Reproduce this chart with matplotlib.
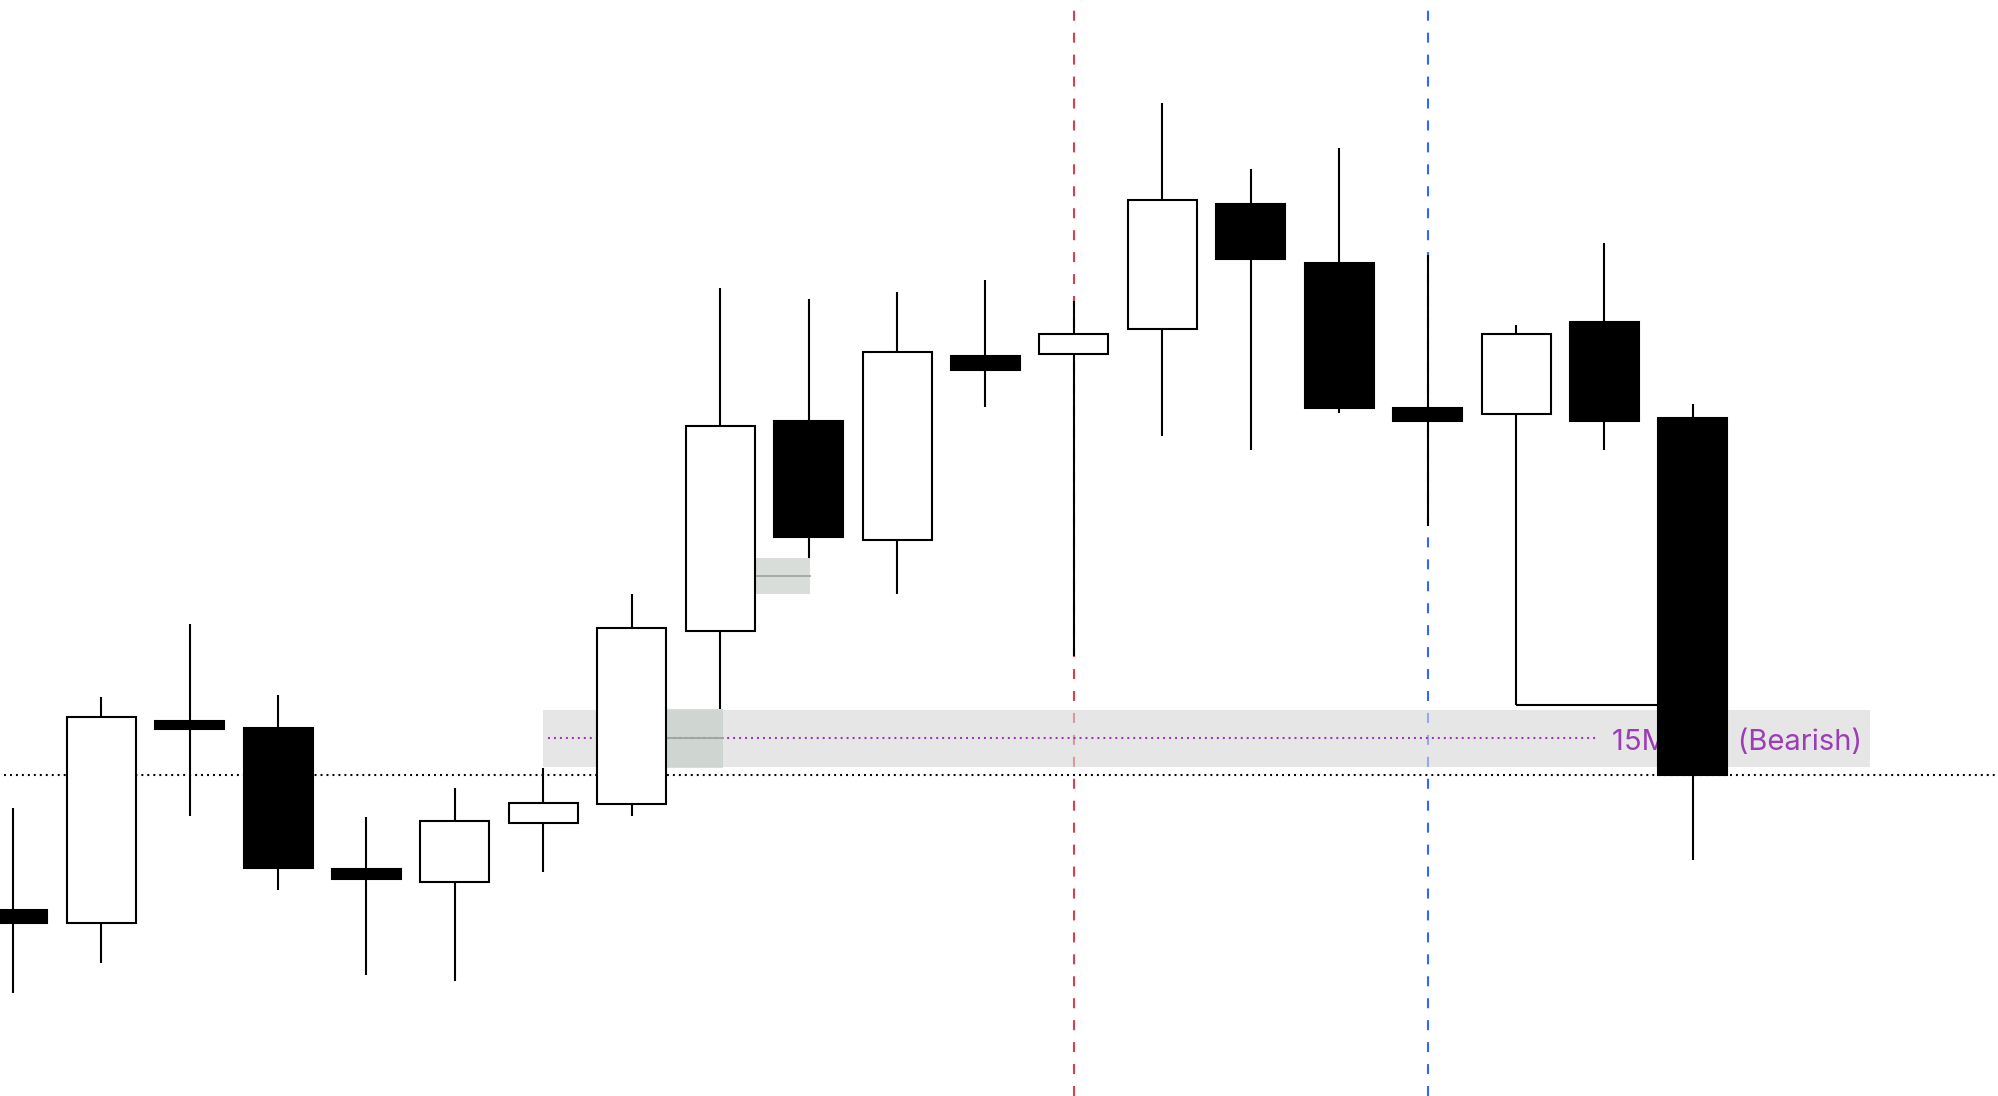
import matplotlib
matplotlib.use("Agg")
import matplotlib.pyplot as plt
from matplotlib.patches import Rectangle

plt.rcParams['lines.scale_dashes'] = False

# OHLC values (arbitrary price units)
opens  = [146, 136, 294, 289, 178, 168, 214, 229, 365, 530, 436, 581, 582, 602, 700, 654, 540, 535, 607, 532]
highs  = [226, 313, 370, 315, 219, 242, 257, 394, 634, 625, 631, 640, 624, 779, 727, 744, 660, 605, 669, 543]
lows   = [ 81, 104, 220, 162,  95,  90, 176, 220, 304, 422, 394, 541, 345, 518, 507, 536, 447, 307, 507, 185]
closes = [136, 297, 288, 179, 170, 216, 230, 367, 526, 439, 584, 570, 598, 703, 657, 540, 530, 598, 530, 252]

# Zones / levels
zone_start, zone_end = 6, 21
zone_low, zone_high = 258, 303
zone_mid = 281
zone_label = "15M SIBI (Bearish)"
fvg1 = (7.39, 8.03, 257, 304, 281)
fvg2 = (8.39, 9.02, 394, 422, 408)
current_price = 252
red_vline = 12
blue_vline = 16
swing_low_idx, swing_low_end = 17, 19
swing_low_price = 307

W, H = 1998, 1096
fig = plt.figure(figsize=(W / 100, H / 100), dpi=100)
ax = fig.add_axes([0, 0, 1, 1])
ax.set_xlim(-0.144, 22.45)
ax.set_ylim(0, 860)
ax.axis('off')

lw = 1.5
body_w = 0.78

# vertical dashed lines
ax.axvline(red_vline, color='#d8404c', lw=1.5, dashes=(7.2, 8.6), zorder=1)
ax.axvline(blue_vline, color='#3366ff', lw=1.5, dashes=(7.2, 8.6), zorder=1)

# zone band
ax.add_patch(Rectangle((zone_start, zone_low), zone_end - zone_start, zone_high - zone_low,
                       facecolor='#d6d6d6', alpha=0.6, edgecolor='none', zorder=2))
ax.plot([zone_start + 0.05, 17.9], [zone_mid, zone_mid], color='#9b34b5', lw=1.5,
        dashes=(1.4, 2.9), zorder=3)
ax.text(18.08, zone_mid - 4, zone_label, color='#9b3db5', fontsize=21, family=['Inter', 'DejaVu Sans'],
        va='center', ha='left', zorder=3)

# small FVG boxes
for (x0, x1, y0, y1, ym) in (fvg1, fvg2):
    ax.add_patch(Rectangle((x0, y0), x1 - x0, y1 - y0, facecolor='#c4ccc6', alpha=0.65,
                           edgecolor='none', zorder=4))
    ax.plot([x0, x1], [ym, ym], color='#9aa09c', lw=1.2, zorder=4)

# current price dotted line
ax.plot([-0.1, 22.45], [current_price, current_price], color='black', lw=1.5,
        dashes=(1.4, 2.9), zorder=3)

# swing low line
ax.plot([swing_low_idx, swing_low_end], [swing_low_price, swing_low_price], color='black',
        lw=lw, zorder=5, solid_capstyle='butt')

# candles
for i, (o, h, l, c) in enumerate(zip(opens, highs, lows, closes)):
    ax.plot([i, i], [l, h], color='black', lw=lw, zorder=5, solid_capstyle='butt')
    bottom = min(o, c)
    height = abs(c - o)
    face = 'white' if c > o else 'black'
    ax.add_patch(Rectangle((i - body_w / 2, bottom), body_w, height, facecolor=face,
                           edgecolor='black', lw=lw, zorder=6))

fig.savefig('out.png', dpi=100, facecolor='white')
